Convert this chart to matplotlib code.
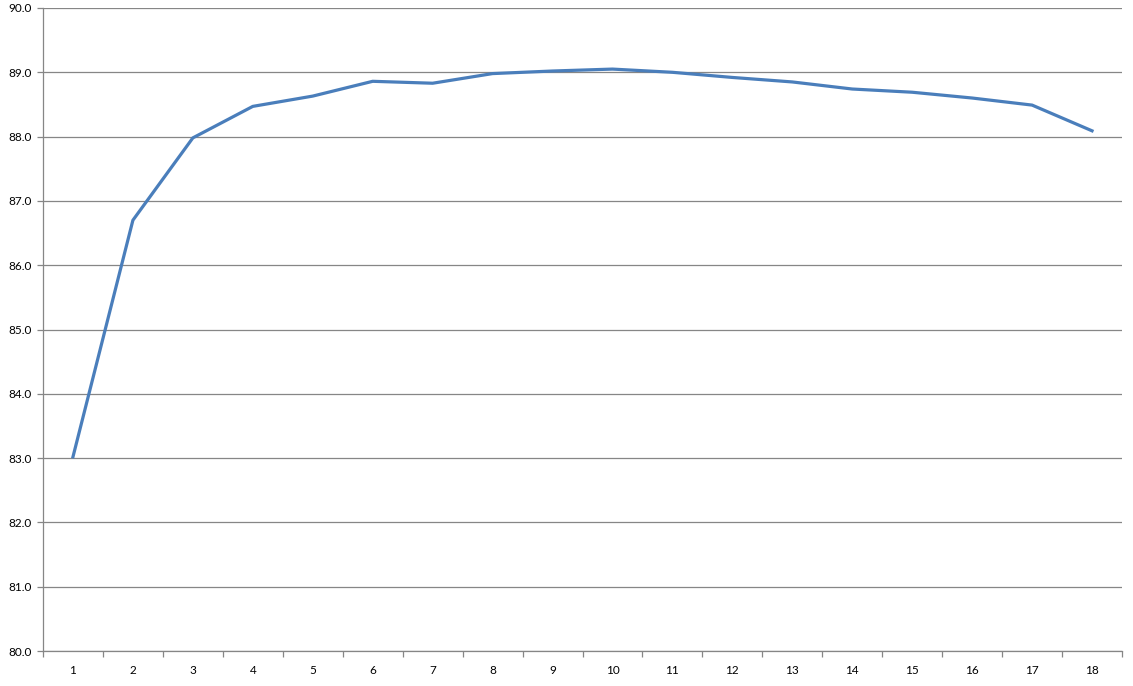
import matplotlib
matplotlib.use("Agg")
import matplotlib.pyplot as plt
import numpy as np

categories = [str(i) for i in range(1, 19)]
values = [83.02, 86.70, 87.98, 88.47, 88.63, 88.86, 88.83, 88.98, 89.02,
          89.05, 89.00, 88.92, 88.85, 88.74, 88.69, 88.60, 88.49, 88.09]
y_ticks = [80.0, 81.0, 82.0, 83.0, 84.0, 85.0, 86.0, 87.0, 88.0, 89.0, 90.0]

plt.rcParams['font.family'] = ['Lato', 'DejaVu Sans']

fig = plt.figure(figsize=(11.33, 6.86), dpi=100)
ax = fig.add_axes([43/1133, 1 - 651/686, (1122 - 43)/1133, (651 - 8)/686])

x = np.arange(1, len(values) + 1)
ax.plot(x, values, color='#4A7EBB', linewidth=2.3, solid_joinstyle='round', zorder=3)

ax.set_xlim(0.5, len(values) + 0.5)
ax.set_ylim(80, 90)
ax.set_yticks(y_ticks)
ax.set_yticklabels([f"{v:.1f}" for v in y_ticks])
ax.set_xticks(x)
ax.set_xticklabels(categories)
ax.set_xticks(np.arange(0.5, len(values) + 1, 1.0), minor=True)

grid_c = '#868686'
ax.yaxis.grid(True, color=grid_c, linewidth=0.9)
ax.set_axisbelow(True)
for s in ['top', 'right']:
    ax.spines[s].set_visible(False)
for s in ['left', 'bottom']:
    ax.spines[s].set_color(grid_c)
    ax.spines[s].set_linewidth(0.9)

ax.tick_params(axis='x', which='major', length=0, pad=10, labelsize=8.5, colors='black')
ax.tick_params(axis='x', which='minor', length=4, width=0.9, color=grid_c)
ax.tick_params(axis='y', which='major', length=4, width=0.9, color=grid_c, pad=4, labelsize=8.5, labelcolor='black')

fig.savefig('out.png', dpi=100, facecolor='white')
